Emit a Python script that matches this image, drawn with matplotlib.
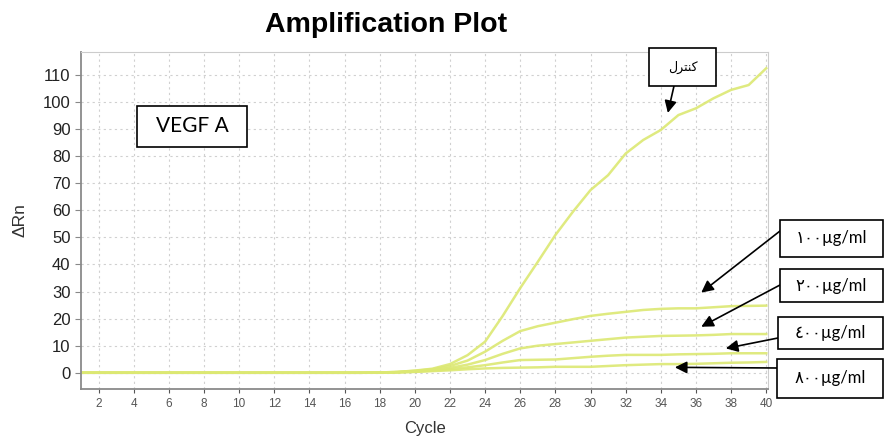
import matplotlib.pyplot as plt
from matplotlib.patches import Rectangle
import numpy as np

# amplification data (delta Rn per cycle)
cycles = list(range(1, 41))
flat = [0.0] * 17
control = flat + [0.1, 0.3, 0.8, 1.5, 3.2, 6.5, 11.5, 21.0, 31.3, 41.0, 50.9, 59.5, 67.5,
                  73.0, 81.0, 86.0, 89.7, 95.2, 97.7, 101.4, 104.5, 106.3, 112.5]
dose_100 = flat + [0.1, 0.3, 0.7, 1.3, 2.5, 4.5, 7.8, 11.8, 15.4, 17.2, 18.5, 19.8, 21.0,
                   21.8, 22.5, 23.2, 23.6, 23.8, 23.8, 24.2, 24.6, 24.7, 24.8]
dose_200 = flat + [0.1, 0.2, 0.5, 1.0, 1.8, 3.0, 4.7, 7.0, 9.0, 10.0, 10.6, 11.2, 11.8,
                   12.4, 13.0, 13.3, 13.6, 13.7, 13.8, 14.0, 14.3, 14.3, 14.3]
dose_400 = flat + [0.1, 0.2, 0.4, 0.8, 1.3, 2.0, 2.8, 3.8, 4.7, 4.8, 4.9, 5.4, 5.9,
                   6.3, 6.6, 6.6, 6.6, 6.8, 6.9, 7.0, 7.2, 7.2, 7.2]
dose_800 = flat + [0.0, 0.1, 0.3, 0.6, 0.9, 1.3, 1.6, 1.8, 1.9, 2.0, 2.2, 2.2, 2.2,
                   2.5, 2.8, 3.0, 3.2, 3.2, 3.3, 3.5, 3.7, 3.8, 4.0]

box_labels = ['\u0661\u0660\u0660\u00b5g/ml', '\u0662\u0660\u0660\u00b5g/ml',
              '\u0664\u0660\u0660\u00b5g/ml', '\u0668\u0660\u0660\u00b5g/ml']
# "کنترل" written in shaped (presentation) forms, visual order
control_label = '\uFEDD\uFEAE\uFE98\uFEE8\uFB90'

W, H = 884, 437
fig = plt.figure(figsize=(W / 100, H / 100), dpi=100)
ax = fig.add_axes([81 / W, 1 - 389 / H, (768 - 81) / W, (389 - 52) / H])

line_col = '#dce872'
for s in [control, dose_100, dose_200, dose_400, dose_800]:
    ax.plot(cycles, s, color=line_col, lw=1.8, alpha=0.9)

ax.set_xlim(1, 40.1)
ax.set_ylim(-6, 118.5)
ax.set_xticks(np.arange(2, 41, 2))
ax.set_yticks(np.arange(0, 111, 10))
ax.grid(True, ls=(0, (2, 3)), color='#d0d0d0', lw=0.8)
ax.tick_params(axis='x', labelsize=8.5, colors='#555555', length=3, direction='out')
ax.tick_params(axis='y', labelsize=12, labelcolor='#222222', color='#888888', length=4)
for lab in ax.get_yticklabels() + ax.get_xticklabels():
    lab.set_family('Liberation Sans')
for k in ['left', 'bottom']:
    ax.spines[k].set_color('#8a8a8a')
    ax.spines[k].set_linewidth(1.3)
for k in ['top', 'right']:
    ax.spines[k].set_color('#cccccc')

fig.text(386 / W, 1 - 25 / H, 'Amplification Plot', fontsize=20.5, fontweight='bold',
         family='Liberation Sans', ha='center', va='center')
fig.text(20 / W, 1 - 220 / H, '\u0394Rn', fontsize=12.5, rotation=90, color='#333333',
         family='Liberation Sans', ha='center', va='center')
fig.text(425 / W, 1 - 428 / H, 'Cycle', fontsize=12, color='#333333',
         family='Liberation Sans', ha='center', va='center')


def box(x0, y0, x1, y1, text, size):
    fig.patches.append(Rectangle((x0 / W, 1 - y1 / H), (x1 - x0) / W, (y1 - y0) / H,
                                 transform=fig.transFigure, fill=True, fc='white',
                                 ec='black', lw=1.2, zorder=5))
    fig.text((x0 + x1) / 2 / W, 1 - (y0 + y1) / 2 / H, text, fontsize=size,
             family=['Lato', 'DejaVu Sans'], ha='center', va='center', zorder=6)


box(137, 106, 247, 147, 'VEGF A', 15)
box(649, 48, 716, 86, control_label, 9)
box(780, 220, 883, 257, box_labels[0], 12)
box(780, 269, 883, 302, box_labels[1], 12)
box(778, 317, 883, 349, box_labels[2], 12)
box(777, 359, 883, 398, box_labels[3], 12)

arrows = [((674, 86), (34.4, 96)),
          ((780, 231), (36.3, 29.6)),
          ((780, 285), (36.3, 17)),
          ((778, 338), (37.7, 9)),
          ((777, 368), (34.8, 2))]
for (sx, sy), tip in arrows:
    ax.annotate('', xy=tip, xytext=(sx / W, 1 - sy / H), textcoords='figure fraction',
                arrowprops=dict(arrowstyle='-|>', color='black', lw=1.2,
                                mutation_scale=18, shrinkA=0, shrinkB=0),
                annotation_clip=False, zorder=7)

fig.savefig('out.png', dpi=100)
